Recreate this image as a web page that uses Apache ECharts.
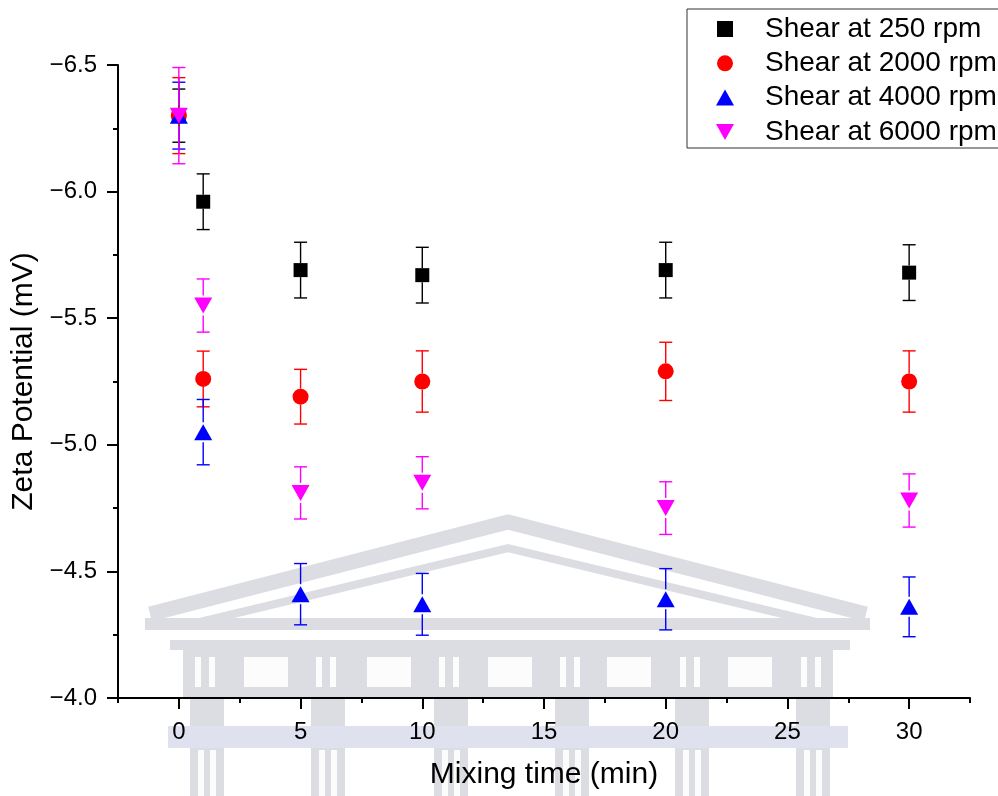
<!DOCTYPE html>
<html>
<head>
<meta charset="utf-8">
<script src="https://cdn.jsdelivr.net/npm/echarts@6/dist/echarts.min.js"></script>
<style>
html,body{margin:0;padding:0;background:#fff;}
#chart{width:998px;height:796px;}
</style>
</head>
<body>
<div id="chart"></div>
<script>
// ---- data ----
const seriesNames = ['Shear at 250 rpm', 'Shear at 2000 rpm', 'Shear at 4000 rpm', 'Shear at 6000 rpm'];
const mixTime = [0, 1, 5, 10, 20, 30];
const zeta250  = [-6.30, -5.96, -5.69, -5.67, -5.69, -5.68];
const err250   = [0.105, 0.11, 0.11, 0.11, 0.11, 0.11];
const zeta2000 = [-6.30, -5.26, -5.19, -5.25, -5.29, -5.25];
const err2000  = [0.15, 0.11, 0.108, 0.121, 0.115, 0.121];
const zeta4000 = [-6.30, -5.05, -4.41, -4.37, -4.39, -4.36];
const err4000  = [0.132, 0.129, 0.121, 0.122, 0.121, 0.118];
const zeta6000 = [-6.30, -5.55, -4.81, -4.85, -4.75, -4.78];
const err6000  = [0.19, 0.105, 0.103, 0.103, 0.104, 0.105];
const xMajorTicks = [0, 5, 10, 15, 20, 25, 30];
const xMinorTicks = [-2.5, 2.5, 7.5, 12.5, 17.5, 22.5, 27.5, 32.5];

const colors = ['#000000', '#ff0000', '#0000ff', '#ff00ff'];
const FONT = 'Liberation Sans, Arial, sans-serif';

const allZeta = [zeta250, zeta2000, zeta4000, zeta6000];
const allErr = [err250, err2000, err4000, err6000];
const symbols = ['rect', 'circle', 'triangle', 'triangle'];
const symSizes = [14, 16, [18, 16], [18, 16]];
const legendIcons = ['path://M0,0L15,0L15,15L0,15Z', 'circle', 'path://M9,0L18,16L0,16Z', 'path://M0,0L18,0L9,16Z'];
const symRot = [0, 0, 0, 180];
const gaps = [7, 8, 10, 10];

function errRender(color, gap) {
  return function (params, api) {
    const x = api.value(0), y = api.value(1), e = api.value(2);
    const c = api.coord([x, y]);
    const a = api.coord([x, y - e]);
    const b = api.coord([x, y + e]);
    const top = Math.min(a[1], b[1]), bot = Math.max(a[1], b[1]);
    const hw = 6.5;
    const st = { stroke: color, lineWidth: 1.4 };
    return {
      type: 'group',
      children: [
        { type: 'line', shape: { x1: c[0], y1: top, x2: c[0], y2: c[1] - gap }, style: st },
        { type: 'line', shape: { x1: c[0], y1: c[1] + gap, x2: c[0], y2: bot }, style: st },
        { type: 'line', shape: { x1: c[0] - hw, y1: top, x2: c[0] + hw, y2: top }, style: st },
        { type: 'line', shape: { x1: c[0] - hw, y1: bot, x2: c[0] + hw, y2: bot }, style: st }
      ]
    };
  };
}

const series = [];
for (let i = 0; i < 4; i++) {
  series.push({
    type: 'custom',
    name: 'err' + i,
    z: 2,
    renderItem: errRender(colors[i], gaps[i]),
    encode: { x: 0, y: 1 },
    data: mixTime.map((t, k) => [t, allZeta[i][k], allErr[i][k]]),
    silent: true
  });
}
for (let i = 0; i < 4; i++) {
  series.push({
    type: 'scatter',
    name: seriesNames[i],
    z: 3,
    symbol: symbols[i],
    symbolSize: symSizes[i],
    symbolRotate: symRot[i],
    itemStyle: { color: colors[i], opacity: 1 },
    data: mixTime.map((t, k) => [t, allZeta[i][k]])
  });
}

// ---- watermark (faded building logo) ----
const WM = '#dcdde2';
const WMB = '#dfe2ee';
const WIN = '#fcfcfc';
const wm = [];
wm.push({ type: 'polyline', shape: { points: [[150, 614], [508, 522], [866, 614]] }, style: { stroke: WM, lineWidth: 15, fill: null } });
wm.push({ type: 'polyline', shape: { points: [[200, 622], [508, 548], [816, 622]] }, style: { stroke: WM, lineWidth: 8, fill: null } });
wm.push({ type: 'rect', shape: { x: 145, y: 618, width: 725, height: 12 }, style: { fill: WM } });
wm.push({ type: 'rect', shape: { x: 170, y: 640, width: 680, height: 10 }, style: { fill: WM } });
wm.push({ type: 'rect', shape: { x: 183, y: 650, width: 650, height: 47 }, style: { fill: WM } });
[244, 367, 488, 607, 728].forEach(x => wm.push({ type: 'rect', shape: { x: x, y: 657, width: 44, height: 30 }, style: { fill: WIN } }));
[190, 311, 434, 555, 675, 796].forEach(x => {
  wm.push({ type: 'rect', shape: { x: x + 5, y: 657, width: 6, height: 30 }, style: { fill: WIN } });
  wm.push({ type: 'rect', shape: { x: x + 19, y: 657, width: 6, height: 30 }, style: { fill: WIN } });
  wm.push({ type: 'rect', shape: { x: x, y: 697, width: 34, height: 99 }, style: { fill: WM } });
  wm.push({ type: 'rect', shape: { x: x + 8, y: 750, width: 6, height: 46 }, style: { fill: WIN } });
  wm.push({ type: 'rect', shape: { x: x + 20, y: 750, width: 6, height: 46 }, style: { fill: WIN } });
});
wm.push({ type: 'rect', shape: { x: 168, y: 726, width: 680, height: 22 }, style: { fill: WMB } });

const option = {
  backgroundColor: '#ffffff',
  animation: false,
  textStyle: { fontFamily: FONT },
  grid: { left: 118, right: 28, top: 65, bottom: 98, containLabel: false },
  legend: {
    orient: 'vertical',
    left: 716,
    top: 14,
    padding: 0,
    itemWidth: 18,
    itemHeight: 16,
    itemGap: 4.3,
    symbolKeepAspect: true,
    data: seriesNames.map((n, i) => ({ name: n, icon: legendIcons[i], itemStyle: { color: colors[i] } })),
    textStyle: { fontFamily: FONT, fontSize: 28, color: '#000', lineHeight: 30, padding: [0, 0, 0, 26] }
  },
  xAxis: [{
    type: 'value',
    min: -2.5, max: 32.5, interval: 2.5,
    name: 'Mixing time (min)',
    nameLocation: 'middle',
    nameGap: 62,
    nameTextStyle: { fontFamily: FONT, fontSize: 30, color: '#000' },
    axisLine: { show: true, onZero: false, lineStyle: { color: '#000', width: 2 } },
    axisTick: { show: true, inside: false, length: 11, customValues: xMajorTicks, lineStyle: { color: '#000', width: 2 } },
    axisLabel: { show: true, margin: 22, customValues: xMajorTicks, fontFamily: FONT, fontSize: 24, color: '#000' },
    splitLine: { show: false }
  }, {
    type: 'value',
    position: 'bottom',
    min: -2.5, max: 32.5, interval: 2.5,
    axisLine: { show: false, onZero: false },
    axisTick: { show: true, inside: false, length: 5, customValues: xMinorTicks, lineStyle: { color: '#000', width: 2 } },
    axisLabel: { show: false },
    splitLine: { show: false }
  }],
  yAxis: {
    type: 'value',
    inverse: true,
    min: -6.5, max: -4.0, interval: 0.5,
    name: 'Zeta Potential (mV)',
    nameLocation: 'middle',
    nameGap: 78,
    nameTextStyle: { fontFamily: FONT, fontSize: 30, color: '#000' },
    axisLine: { show: true, onZero: false, lineStyle: { color: '#000', width: 2 } },
    axisTick: { show: true, inside: false, length: 11, lineStyle: { color: '#000', width: 2 } },
    minorTick: { show: true, splitNumber: 2, length: 5, lineStyle: { color: '#000', width: 2 } },
    axisLabel: {
      margin: 21, fontFamily: FONT, fontSize: 24, color: '#000',
      formatter: v => (v < 0 ? '\u2212' : '') + Math.abs(v).toFixed(1)
    },
    splitLine: { show: false },
    minorSplitLine: { show: false }
  },
  graphic: [
    { type: 'group', z: -10, silent: true, children: wm },
    { type: 'rect', z: 10, silent: true, shape: { x: 687, y: 9, width: 360, height: 139 }, style: { fill: null, stroke: '#333', lineWidth: 1 } }
  ],
  series: series
};

const chart = echarts.init(document.getElementById('chart'), null, { renderer: 'canvas' });
chart.setOption(option);
</script>
</body>
</html>
